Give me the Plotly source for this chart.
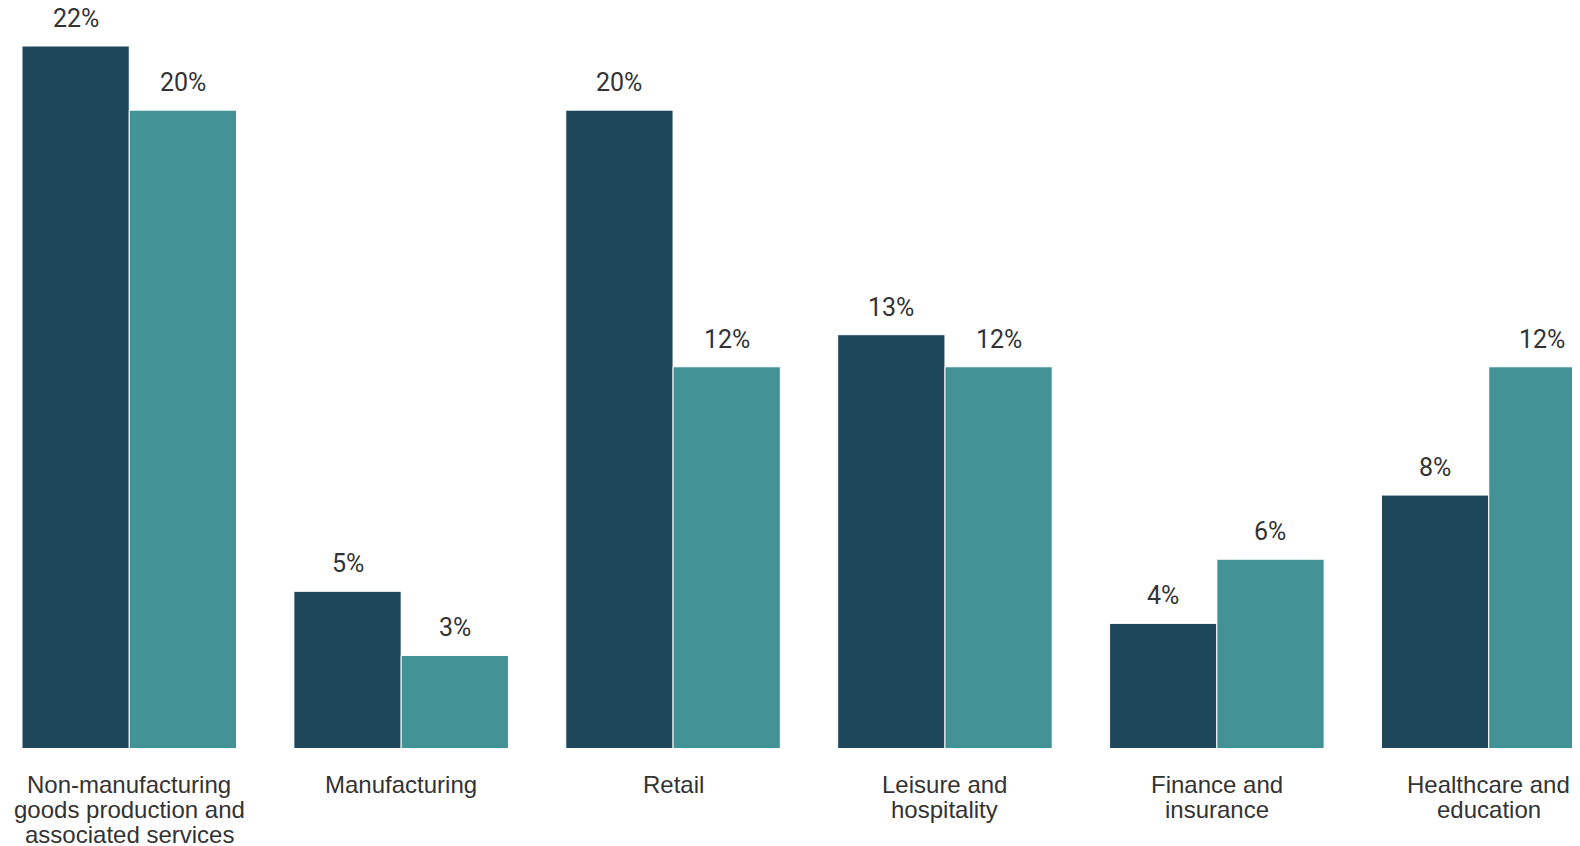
import plotly.graph_objects as go

categories = [
    "Non-manufacturing goods production and associated services",
    "Manufacturing",
    "Retail",
    "Leisure and hospitality",
    "Finance and insurance",
    "Healthcare and education",
]
# wrapped lines as shown under each group
category_lines = [
    ["Non-manufacturing", "goods production and", "associated services"],
    ["Manufacturing"],
    ["Retail"],
    ["Leisure and", "hospitality"],
    ["Finance and", "insurance"],
    ["Healthcare and", "education"],
]
series_a = [22, 5, 20, 13, 4, 8]
series_b = [20, 3, 12, 12, 6, 12]

DARK = "#1f475c"
TEAL = "#439396"
TEXT = "#333333"

fig = go.Figure()
for vals, color in [(series_a, DARK), (series_b, TEAL)]:
    fig.add_trace(go.Bar(
        x=list(range(len(categories))),
        y=vals,
        marker=dict(color=color, line=dict(color="white", width=1)),
        showlegend=False,
    ))

# value labels above each bar
BAR_SHIFT = 53.6
for i in range(len(categories)):
    for vals, sh in [(series_a, -BAR_SHIFT), (series_b, BAR_SHIFT)]:
        fig.add_annotation(
            x=i, y=vals[i], text=f"{vals[i]}%",
            showarrow=False, xshift=sh, yshift=11, yanchor="bottom",
            font=dict(family="Roboto", size=25, color=TEXT),
        )

# category labels (tight line spacing)
for i, lines in enumerate(category_lines):
    for j, line in enumerate(lines):
        fig.add_annotation(
            x=i, xref="x", y=0, yref="paper", text=line,
            showarrow=False, yanchor="middle", yshift=-36 - 25 * j,
            font=dict(family="Liberation Sans", size=24, color=TEXT),
        )

fig.update_layout(
    width=1600, height=846,
    margin=dict(l=14, r=20, t=38, b=106, autoexpand=False),
    paper_bgcolor="white", plot_bgcolor="white",
    barmode="group", bargap=0.211, bargroupgap=0,
    showlegend=False,
)
fig.update_xaxes(
    range=[-0.3945, 5.365], showgrid=False, zeroline=False, showline=False,
    showticklabels=False, automargin=False,
)
fig.update_yaxes(
    range=[0.115, 22], visible=False, showgrid=False, zeroline=False,
    automargin=False,
)

fig.write_html("out.html")
